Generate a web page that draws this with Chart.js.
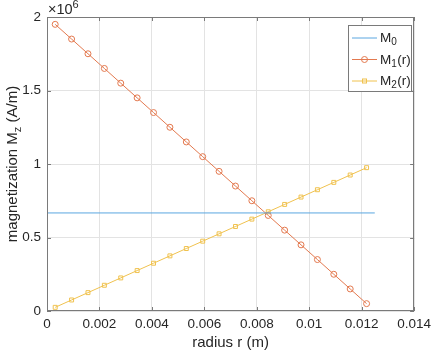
<!DOCTYPE html>
<html>
<head>
<meta charset="utf-8">
<script src="https://cdn.jsdelivr.net/npm/chart.js@4/dist/chart.umd.min.js"></script>
<style>
html,body{margin:0;padding:0;background:#fff;}
canvas{display:block;}
</style>
</head>
<body>
<canvas id="c" width="436" height="352"></canvas>
<script>
// ---- data ----
const radius = [0.0003125, 0.0009375, 0.0015625, 0.0021875, 0.0028125, 0.0034375, 0.0040625, 0.0046875, 0.0053125, 0.0059375,
                0.0065625, 0.0071875, 0.0078125, 0.0084375, 0.0090625, 0.0096875, 0.0103125, 0.0109375, 0.0115625, 0.0121875];
const M1 = [1950000, 1850000, 1750000, 1650000, 1550000, 1450000, 1350000, 1250000, 1150000, 1050000,
            950000, 850000, 750000, 650000, 550000, 450000, 350000, 250000, 150000, 50000];
const M2 = [25000, 75000, 125000, 175000, 225000, 275000, 325000, 375000, 425000, 475000,
            525000, 575000, 625000, 675000, 725000, 775000, 825000, 875000, 925000, 975000];
const M0_r = [0, 0.0125];
const M0 = [667000, 667000];
const seriesNames = ['M0', 'M1(r)', 'M2(r)'];
const xTicks = [0, 0.002, 0.004, 0.006, 0.008, 0.01, 0.012, 0.014];
const yTicks = [0, 500000, 1000000, 1500000, 2000000];
const yTickLabels = ['0', '0.5', '1', '1.5', '2'];

const FONT = '"Liberation Sans", Helvetica, Arial, sans-serif';
const TXT = '#262626';
const C0 = '#5aa6e0', C1 = '#e3794f', C2 = '#f0c24f';

const pts = (xs, ys) => xs.map((x, i) => ({x: x, y: ys[i]}));

// custom drawing: box, inward ticks, axis titles, exponent, legend
const decor = {
  id: 'decor',
  afterDatasetsDraw(chart) {
    const ctx = chart.ctx, a = chart.chartArea;
    const xs = chart.scales.x, ys = chart.scales.y;
    ctx.save();
    // box
    ctx.strokeStyle = '#7a7a7a';
    ctx.lineWidth = 1;
    ctx.strokeRect(Math.round(a.left) + 0.5, Math.round(a.top) + 0.5, Math.round(a.right - a.left) - 1, Math.round(a.bottom - a.top) - 1);
    // inward ticks
    const tl = 4;
    ctx.beginPath();
    xTicks.forEach(v => {
      const px = Math.round(xs.getPixelForValue(v)) + 0.5;
      ctx.moveTo(px, a.bottom); ctx.lineTo(px, a.bottom - tl);
      ctx.moveTo(px, a.top); ctx.lineTo(px, a.top + tl);
    });
    yTicks.forEach(v => {
      const py = Math.round(ys.getPixelForValue(v)) + 0.5;
      ctx.moveTo(a.left, py); ctx.lineTo(a.left + tl, py);
      ctx.moveTo(a.right, py); ctx.lineTo(a.right - tl, py);
    });
    ctx.stroke();

    ctx.fillStyle = TXT;
    // x title
    ctx.font = '15px ' + FONT;
    ctx.textAlign = 'center';
    ctx.textBaseline = 'middle';
    ctx.fillText('radius r (m)', (a.left + a.right) / 2, 343);

    // y title with subscript
    ctx.save();
    ctx.translate(13, (a.top + a.bottom) / 2);
    ctx.rotate(-Math.PI / 2);
    ctx.textAlign = 'left';
    ctx.textBaseline = 'middle';
    const big = '15px ' + FONT, small = '11px ' + FONT;
    const p1 = 'magnetization M', p2 = 'z', p3 = ' (A/m)';
    ctx.font = big; const w1 = ctx.measureText(p1).width, w3 = ctx.measureText(p3).width;
    ctx.font = small; const w2 = ctx.measureText(p2).width;
    let sx = -(w1 + w2 + w3) / 2;
    ctx.font = big; ctx.fillText(p1, sx, 0); sx += w1;
    ctx.font = small; ctx.fillText(p2, sx, 5); sx += w2;
    ctx.font = big; ctx.fillText(p3, sx, 0);
    ctx.restore();

    // exponent label
    ctx.textAlign = 'left';
    ctx.textBaseline = 'alphabetic';
    ctx.font = '14.5px ' + FONT;
    ctx.fillText('\u00d710', a.left + 1, 14);
    const we = ctx.measureText('\u00d710').width;
    ctx.font = '11px ' + FONT;
    ctx.fillText('6', a.left + 1 + we, 8);

    // legend
    const lx = 348.5, ly = 25.5, lw = 63, lh = 66;
    ctx.fillStyle = '#fff';
    ctx.fillRect(lx, ly, lw, lh);
    ctx.strokeStyle = '#7a7a7a';
    ctx.strokeRect(lx, ly, lw, lh);
    const rows = [38, 59.5, 81];
    const cols = [C0, C1, C2];
    const subs = ['0', '1', '2'];
    const tails = ['', '(r)', '(r)'];
    rows.forEach((y, i) => {
      ctx.strokeStyle = cols[i];
      ctx.lineWidth = 1;
      ctx.beginPath(); ctx.moveTo(352, y); ctx.lineTo(377, y); ctx.stroke();
      if (i === 1) { ctx.beginPath(); ctx.arc(364.5, y, 3, 0, Math.PI * 2); ctx.stroke(); }
      if (i === 2) { ctx.strokeRect(362.5, y - 2, 4, 4); }
      ctx.fillStyle = TXT;
      ctx.textBaseline = 'alphabetic';
      ctx.font = '13.5px ' + FONT;
      let tx = 380;
      ctx.fillText('M', tx, y + 4); tx += ctx.measureText('M').width;
      ctx.font = '10px ' + FONT;
      ctx.fillText(subs[i], tx, y + 7); tx += ctx.measureText(subs[i]).width;
      ctx.font = '13.5px ' + FONT;
      if (tails[i]) ctx.fillText(tails[i], tx + 0.5, y + 4);
    });
    ctx.restore();
  }
};

new Chart(document.getElementById('c'), {
  type: 'scatter',
  data: {
    datasets: [
      { label: seriesNames[0], data: pts(M0_r, M0), showLine: true, borderColor: C0, backgroundColor: C0,
        borderWidth: 1, pointRadius: 0 },
      { label: seriesNames[1], data: pts(radius, M1), showLine: true, borderColor: C1, backgroundColor: 'rgba(0,0,0,0)',
        borderWidth: 1, pointRadius: 3, pointStyle: 'circle', pointBorderWidth: 1 },
      { label: seriesNames[2], data: pts(radius, M2), showLine: true, borderColor: C2, backgroundColor: 'rgba(0,0,0,0)',
        borderWidth: 1, pointRadius: 2.8, pointStyle: 'rect', pointBorderWidth: 1 }
    ]
  },
  options: {
    responsive: false,
    animation: false,
    devicePixelRatio: 1,
    layout: { padding: { left: 0, right: 17, top: 17, bottom: 0 } },
    plugins: { legend: { display: false }, tooltip: { enabled: false } },
    scales: {
      x: {
        type: 'linear', min: 0, max: 0.014,
        afterFit(s) { s.height = 41; },
        afterBuildTicks(s) { s.ticks = xTicks.map(v => ({value: v})); },
        ticks: { padding: 5, color: TXT, font: { family: FONT, size: 13.5 }, maxRotation: 0,
                 callback: v => String(Number(v.toFixed(3))) },
        grid: { color: '#e3e3e3', drawTicks: false, lineWidth: 1 },
        border: { display: false }
      },
      y: {
        type: 'linear', min: 0, max: 2000000,
        afterFit(s) { s.width = 47; },
        afterBuildTicks(s) { s.ticks = yTicks.map(v => ({value: v})); },
        ticks: { padding: 6, color: TXT, font: { family: FONT, size: 13.5 },
                 callback: (v) => yTickLabels[yTicks.indexOf(v)] },
        grid: { color: '#e3e3e3', drawTicks: false, lineWidth: 1 },
        border: { display: false }
      }
    }
  },
  plugins: [decor]
});
</script>
</body>
</html>
